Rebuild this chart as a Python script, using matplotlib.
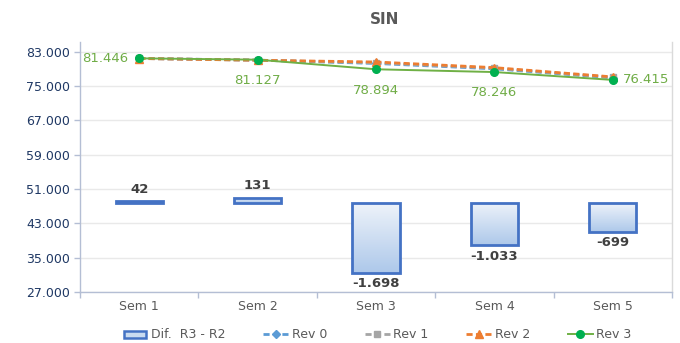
import numpy as np
import matplotlib
matplotlib.use("Agg")
import matplotlib.pyplot as plt
from matplotlib.patches import Rectangle
from matplotlib.legend_handler import HandlerBase

# ---- data ----
weeks = ["Sem 1", "Sem 2", "Sem 3", "Sem 4", "Sem 5"]
rev0 = [81420, 81020, 80250, 79000, 76900]
rev1 = [81410, 81010, 80400, 79150, 77000]
rev2 = [81404, 80996, 80592, 79279, 77114]
rev3 = [81446, 81127, 78894, 78246, 76415]
diff_r3_r2 = [42, 131, -1698, -1033, -699]
y_ticks = [27000, 35000, 43000, 51000, 59000, 67000, 75000, 83000]


def fmt_thousands(v):
    s = f"{abs(int(round(v))):,}".replace(",", ".")
    return ("-" if v < 0 else "") + s


TEXT_GREY = "#595959"
AXIS_NAVY = "#1F3864"
SPINE = "#B4BED4"
GRID = "#E9E9E9"
BAR_EDGE = "#4472C4"
GREEN_LINE = "#6FB045"
GREEN_MARK = "#00B050"
GREEN_TXT = "#70AD47"

plt.rcParams["font.family"] = ["DejaVu Sans"]

fig = plt.figure(figsize=(6.8, 3.43), dpi=100)
ax = fig.add_axes([80 / 680, 1 - 292 / 343, 592 / 680, 250 / 343])
x = np.arange(len(weeks))

# ---- main axis: revision lines ----
ax.set_xlim(-0.5, len(weeks) - 0.5)
ax.set_ylim(27000, 85250)
ax.set_yticks(y_ticks)
ax.set_yticklabels([fmt_thousands(v) for v in y_ticks], color=AXIS_NAVY, fontsize=9)
ax.yaxis.grid(True, color=GRID, linewidth=1)
ax.set_axisbelow(True)
ax.set_xticks(x)
ax.set_xticklabels(weeks, color=TEXT_GREY, fontsize=9)
ax.set_xticks(np.arange(-0.5, len(weeks)), minor=True)
ax.tick_params(axis="x", which="major", length=0, pad=6)
ax.tick_params(axis="x", which="minor", length=4, color=SPINE, width=1)
ax.tick_params(axis="y", length=4, color=SPINE, width=1, pad=3)
ax.spines["top"].set_visible(False)
ax.spines["right"].set_color("#DADADA")
ax.spines["right"].set_linewidth(1)
for side in ("left", "bottom"):
    ax.spines[side].set_color(SPINE)
    ax.spines[side].set_linewidth(1)

dash = (0, (2.2, 1.2))
l0, = ax.plot(x, rev0, color="#5B9BD5", linestyle=dash, linewidth=2.0,
              marker="D", markersize=4, label="Rev 0", zorder=4)
l1, = ax.plot(x, rev1, color="#A5A5A5", linestyle=dash, linewidth=2.0,
              marker="s", markersize=5, label="Rev 1", zorder=4)
l2, = ax.plot(x, rev2, color="#ED7D31", linestyle=dash, linewidth=2.0,
              marker="^", markersize=6, label="Rev 2", zorder=5)
l3, = ax.plot(x, rev3, color=GREEN_LINE, linewidth=1.4, marker="o",
              markersize=5.5, markerfacecolor=GREEN_MARK, markeredgecolor=GREEN_MARK,
              label="Rev 3", zorder=6)

# Rev 3 value labels
label_pos = [("left", (-8, 0)), ("below", (0, -15)), ("below", (0, -15)),
             ("below", (0, -15)), ("right", (7, 0))]
for xi, v, (where, off) in zip(x, rev3, label_pos):
    ha = {"left": "right", "right": "left", "below": "center"}[where]
    ax.annotate(fmt_thousands(v), (xi, v), xytext=off, textcoords="offset points",
                ha=ha, va="center", color=GREEN_TXT, fontsize=9.5, zorder=7)

# ---- secondary axis: difference bars ----
ax2 = ax.twinx()
ax2.set_ylim(-2171, 3927)
ax2.axis("off")
bar_w = 0.40
grad = np.linspace(0, 1, 256).reshape(-1, 1)
cmap = matplotlib.colors.LinearSegmentedColormap.from_list(
    "barfill", ["#EEF3FA", "#ADC8EA"])
for xi, d in zip(x, diff_r3_r2):
    y0, y1 = min(0, d), max(0, d)
    rect = Rectangle((xi - bar_w / 2, y0), bar_w, y1 - y0, facecolor="none",
                     edgecolor=BAR_EDGE, linewidth=2, zorder=3)
    ax2.add_patch(rect)
    img = ax2.imshow(grad, cmap=cmap, aspect="auto", origin="upper",
                     extent=(xi - bar_w / 2, xi + bar_w / 2, y0, y1), zorder=2)
    img.set_clip_path(rect)
    if d >= 0:
        ax2.annotate(fmt_thousands(d), (xi, y1), xytext=(0, 4), textcoords="offset points",
                     ha="center", va="bottom", fontsize=9.5, fontweight="bold",
                     color="#404040")
    else:
        ax2.annotate(fmt_thousands(d), (xi, y0), xytext=(0, -3), textcoords="offset points",
                     ha="center", va="top", fontsize=9.5, fontweight="bold",
                     color="#404040")
ax2.set_xlim(-0.5, len(weeks) - 0.5)

# ---- title ----
fig.text(385 / 680, 1 - 19 / 343, "SIN", ha="center", va="center",
         fontsize=11, fontweight="bold", color=TEXT_GREY)


# ---- legend ----
class BarHandle:
    pass


class BarHandler(HandlerBase):
    def create_artists(self, legend, orig, xd, yd, w, h, fs, trans):
        r = Rectangle((xd + 1, yd + h * 0.1), w - 2, h * 0.8, facecolor="#C9DBF0",
                      edgecolor=BAR_EDGE, linewidth=1.8, transform=trans)
        return [r]


handles = [BarHandle(), l0, l1, l2, l3]
labels = ["Dif.  R3 - R2", "Rev 0", "Rev 1", "Rev 2", "Rev 3"]
leg = fig.legend(handles, labels, handler_map={BarHandle: BarHandler()},
                 loc="center", bbox_to_anchor=(377 / 680, 1 - 335 / 343), ncol=5,
                 frameon=False, fontsize=9, handlelength=2.0, handletextpad=0.3,
                 columnspacing=3.0, labelcolor=TEXT_GREY, markerscale=1.0)

fig.savefig("out.png", dpi=100)
